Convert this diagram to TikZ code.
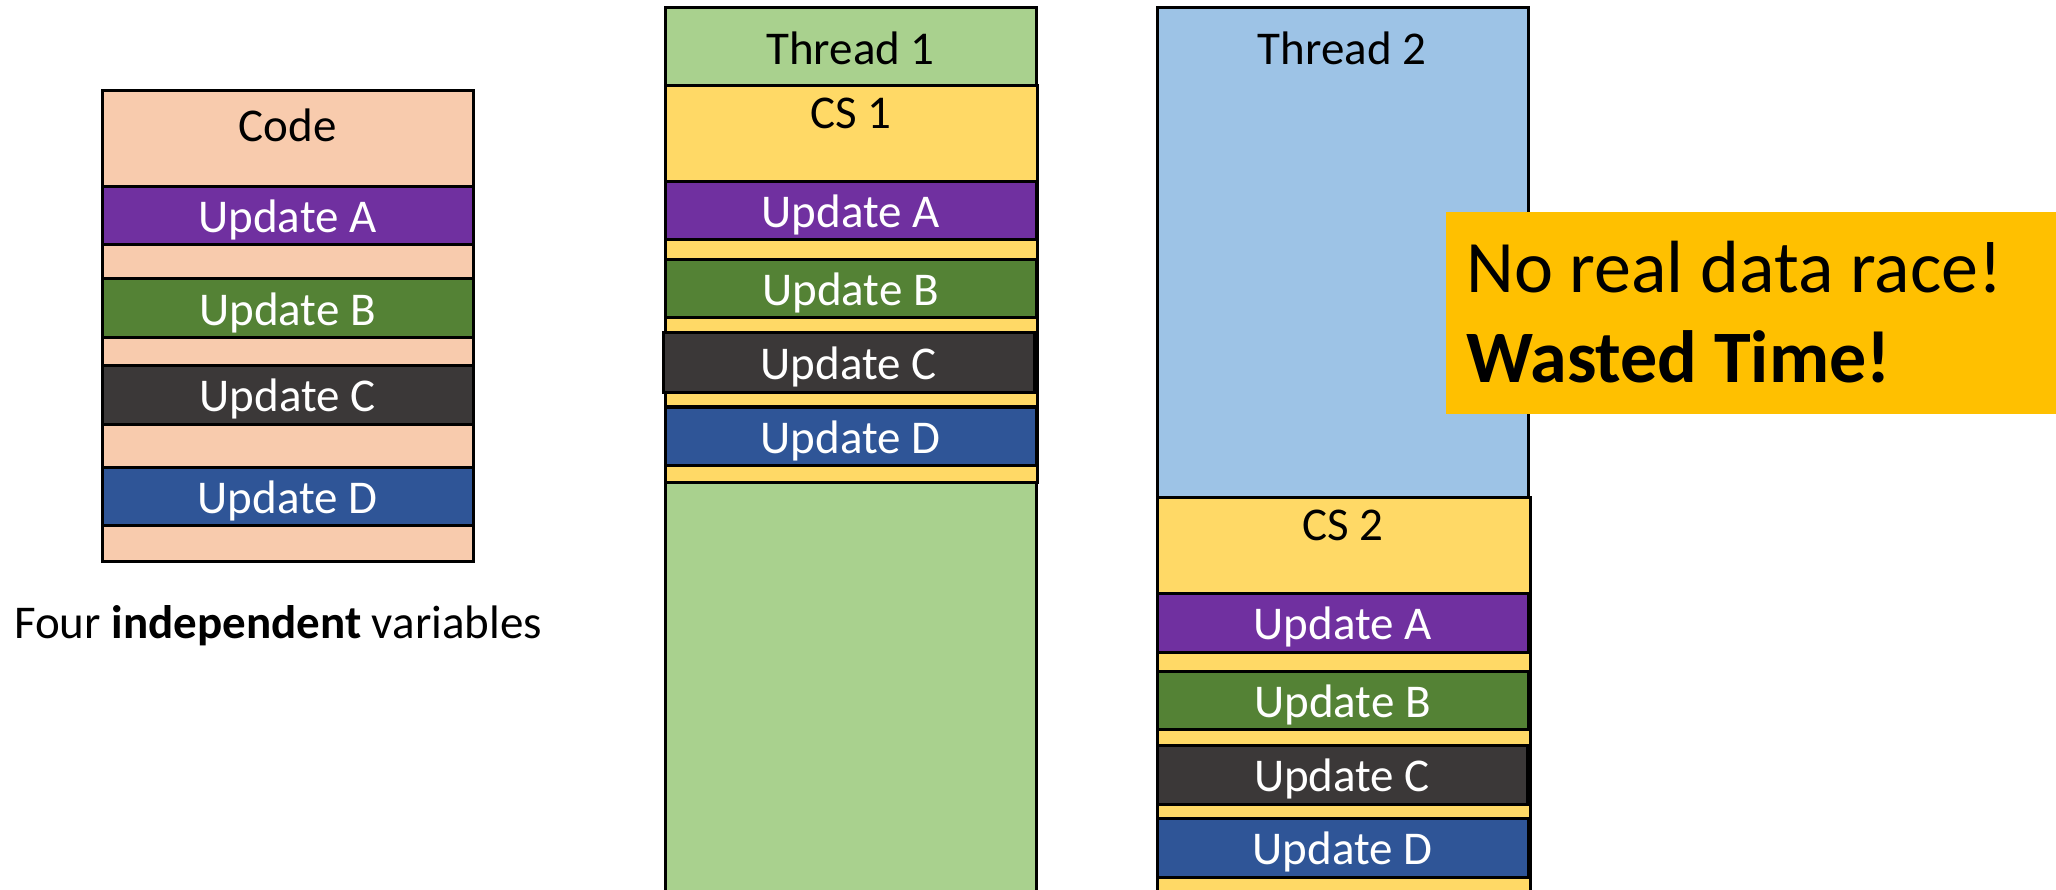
\documentclass[tikz,border=0pt]{standalone}
\usepackage{fontspec}
\setmainfont{Carlito}

\definecolor{peach}{HTML}{F8CBAD}
\definecolor{updA}{HTML}{7030A0}
\definecolor{updB}{HTML}{548235}
\definecolor{updC}{HTML}{3B3838}
\definecolor{updD}{HTML}{2F5597}
\definecolor{threadgreen}{HTML}{A9D18E}
\definecolor{threadblue}{HTML}{9DC3E6}
\definecolor{csyellow}{HTML}{FFD966}
\definecolor{calloutgold}{HTML}{FFC000}

% a rectangular block given by its corners: name, x1, y1, x2, y2, fill, text colour, text
\newcommand\blk[8]{%
  \node[blockbox, fill=#6, text=#7,
        minimum width={(#4-#2)*1pt}, minimum height={(#5-#3)*1pt}]
    (#1) at ({(#2+#4)/2},{(#3+#5)/2}) {#8};}

\tikzset{
  blockbox/.style={draw=black, line width=3pt, rectangle, inner sep=0pt, outer sep=0pt,
                   text height=40pt, text depth=6pt,
                   font=\fontsize{47}{56}\selectfont},
  headlabel/.style={anchor=base, inner sep=0pt, font=\fontsize{47}{56}\selectfont},
  bigtext/.style={anchor=base west, inner sep=0pt, font=\fontsize{74}{88}\selectfont},
}

\begin{document}
\begin{tikzpicture}[x=1pt, y=-1pt]
\useasboundingbox (0,0) rectangle (2056,890);

% ---- the code: four independent updates ----
\blk{code}{102}{91}{473}{561}{peach}{black}{}
\draw[line width=3pt] (code.west |- 0,187) -- (code.east |- 0,187);
\node[headlabel] (codelbl) at (287.5,142) {Code};
\blk{cA}{102}{187}{473}{245}{updA}{white}{Update A}
\blk{cB}{102}{279}{473}{338}{updB}{white}{Update B}
\blk{cC}{102}{366}{473}{424}{updC}{white}{Update C}
\blk{cD}{102}{467}{473}{525}{updD}{white}{Update D}
\node[anchor=base west, inner sep=0pt, font=\fontsize{47}{56}\selectfont]
  (caption) at (14,638) {Four \textbf{independent} variables};

% ---- thread 1 ----
\blk{t1}{665}{8}{1036}{905}{threadgreen}{black}{}
\node[headlabel] (t1lbl) at (850.5,65) {Thread 1};
\blk{cs1}{665}{86}{1037}{482}{csyellow}{black}{}
\node[headlabel] (cs1lbl) at (851,129) {CS 1};
\blk{t1A}{665}{182}{1036}{240}{updA}{white}{Update A}
\blk{t1B}{665}{260}{1036}{318}{updB}{white}{Update B}
\blk{t1C}{663}{333}{1034}{393}{updC}{white}{Update C}
\blk{t1D}{665}{407}{1036}{465}{updD}{white}{Update D}

% ---- thread 2 ----
\blk{t2}{1157}{8}{1528}{497}{threadblue}{black}{}
\node[headlabel] (t2lbl) at (1342,65) {Thread 2};
\blk{cs2}{1157}{497}{1530}{905}{csyellow}{black}{}
\node[headlabel] (cs2lbl) at (1343,540) {CS 2};
\blk{t2A}{1157}{593}{1528}{652}{updA}{white}{Update A}
\blk{t2B}{1157}{671}{1528}{729}{updB}{white}{Update B}
\blk{t2C}{1157}{745}{1527}{804}{updC}{white}{Update C}
\blk{t2D}{1157}{818}{1528}{877}{updD}{white}{Update D}

% ---- remark ----
\node[fill=calloutgold, rectangle, inner sep=0pt, outer sep=0pt,
      minimum width=630pt, minimum height=201pt] (remark) at (1761,313) {};
\node[bigtext] (remark1) at (1466,293) {No real data race!};
\node[bigtext] (remark2) at (1466,383) {\textbf{Wasted Time!}};
\end{tikzpicture}
\end{document}
